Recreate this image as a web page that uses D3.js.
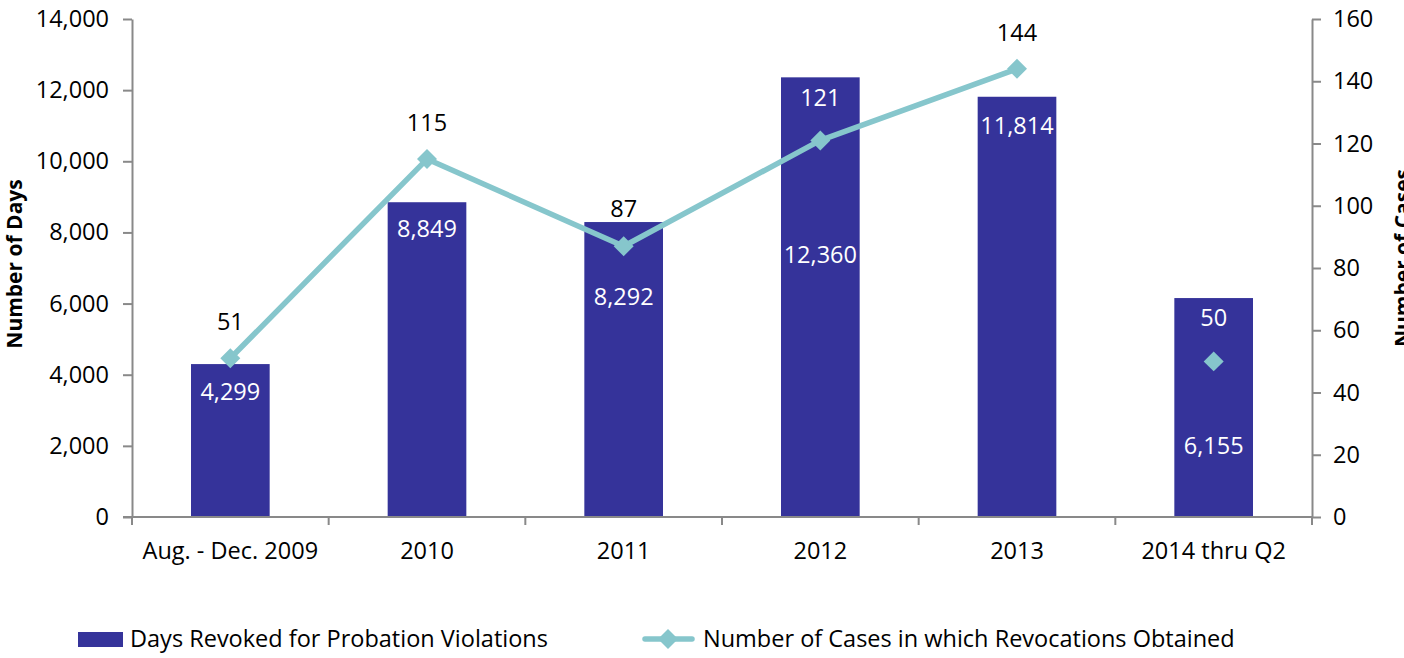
<!DOCTYPE html>
<html>
<head>
<meta charset="utf-8">
<script src="https://cdn.jsdelivr.net/npm/d3@7"></script>
<style>
  body { margin: 0; background: #fff; }
  svg { display: block; font-family: "Open Sans", sans-serif; }
</style>
</head>
<body>
<svg id="chart" width="1404" height="658"></svg>
<script>
// Data
var categories = ["Aug. - Dec. 2009", "2010", "2011", "2012", "2013", "2014 thru Q2"];
var daysRevoked = [4299, 8849, 8292, 12360, 11814, 6155];
var casesObtained = [51, 115, 87, 121, 144, 50];
var leftTicks = [0, 2000, 4000, 6000, 8000, 10000, 12000, 14000];
var rightTicks = [0, 20, 40, 60, 80, 100, 120, 140, 160];

// label placement (px), as the original chart had them nudged by hand
var barLabelDrop = [28, 27, 75, 177, 29, 148];
var caseLabelRise = [36, 36, 37, 43, 36, 44];
var caseLabelWhite = [false, false, false, true, false, true];

var barColor = "#35339a",
    lineColor = "#86c6cc",
    axisColor = "#898989";

window.onload = function() {
   drawChart();
};

function drawChart() {
   var svg = d3.select("#chart");
   var left = 132, right = 1312, top = 19, bottom = 517;
   var fs = 23.5;

   var x = d3.scaleBand().domain(categories).range([left, right]);
   var yL = d3.scaleLinear().domain([0, 14000]).range([bottom, top]);
   var yR = d3.scaleLinear().domain([0, 160]).range([bottom, top]);
   var barW = x.bandwidth() * 0.4;

   // Bars
   svg.append("g")
      .selectAll("rect")
      .data(daysRevoked)
      .enter().append("rect")
         .attr("x", function(d, i) { return x(categories[i]) + (x.bandwidth() - barW) / 2; })
         .attr("y", function(d) { return yL(d); })
         .attr("width", barW)
         .attr("height", function(d) { return bottom - yL(d); })
         .attr("fill", barColor);

   // Axes
   var axL = svg.append("g")
      .attr("transform", "translate(" + left + ",0)")
      .call(d3.axisLeft(yL).tickValues(leftTicks).tickFormat(d3.format(",")).tickSize(9).tickPadding(14).tickSizeOuter(0));
   var axR = svg.append("g")
      .attr("transform", "translate(" + right + ",0)")
      .call(d3.axisRight(yR).tickValues(rightTicks).tickSize(9).tickPadding(12).tickSizeOuter(0));
   [axL, axR].forEach(function(a) {
      a.selectAll("path, line").attr("stroke", axisColor).attr("stroke-width", 2);
      a.selectAll("text").attr("font-size", fs).attr("fill", "#000").attr("font-family", "Open Sans");
   });

   // X axis line + boundary ticks + labels
   var gx = svg.append("g");
   gx.append("line")
      .attr("x1", left - 9).attr("x2", right)
      .attr("y1", bottom).attr("y2", bottom)
      .attr("stroke", axisColor).attr("stroke-width", 2);
   gx.selectAll(".bt")
      .data(d3.range(categories.length + 1))
      .enter().append("line")
         .attr("x1", function(i) { return left + i * x.step(); })
         .attr("x2", function(i) { return left + i * x.step(); })
         .attr("y1", bottom).attr("y2", bottom + 8)
         .attr("stroke", axisColor).attr("stroke-width", 2);
   gx.selectAll("text")
      .data(categories)
      .enter().append("text")
         .attr("x", function(d) { return x(d) + x.bandwidth() / 2; })
         .attr("y", 559)
         .attr("text-anchor", "middle")
         .attr("font-size", fs)
         .text(function(d) { return d; });

   // Bar value labels
   svg.append("g")
      .selectAll("text")
      .data(daysRevoked)
      .enter().append("text")
         .attr("x", function(d, i) { return x(categories[i]) + x.bandwidth() / 2; })
         .attr("y", function(d, i) { return yL(d) + barLabelDrop[i]; })
         .attr("dy", "0.35em")
         .attr("text-anchor", "middle")
         .attr("font-size", fs)
         .attr("fill", "#fff")
         .text(function(d) { return d3.format(",")(d); });

   // Line (the partial 2014 year stands alone)
   var cx = function(i) { return x(categories[i]) + x.bandwidth() / 2; };
   var line = d3.line()
      .defined(function(d, i) { return i < 5; })
      .x(function(d, i) { return cx(i); })
      .y(function(d) { return yR(d); });
   svg.append("path")
      .datum(casesObtained)
      .attr("d", line)
      .attr("fill", "none")
      .attr("stroke", lineColor)
      .attr("stroke-width", 5.5)
      .attr("stroke-linejoin", "round");

   var diamond = d3.symbol().type(d3.symbolSquare).size(200);
   svg.append("g")
      .selectAll("path")
      .data(casesObtained)
      .enter().append("path")
         .attr("d", diamond)
         .attr("transform", function(d, i) { return "translate(" + cx(i) + "," + yR(d) + ") rotate(45)"; })
         .attr("fill", lineColor);

   svg.append("g")
      .selectAll("text")
      .data(casesObtained)
      .enter().append("text")
         .attr("x", function(d, i) { return cx(i); })
         .attr("y", function(d, i) { return yR(d) - caseLabelRise[i]; })
         .attr("dy", "0.35em")
         .attr("text-anchor", "middle")
         .attr("font-size", fs)
         .attr("fill", function(d, i) { return caseLabelWhite[i] ? "#fff" : "#000"; })
         .text(function(d) { return d; });

   // Axis titles (the right one is clipped by the edge, as in the original)
   svg.append("text")
      .attr("transform", "translate(22,264) rotate(-90)")
      .attr("text-anchor", "middle")
      .attr("font-size", 21)
      .attr("font-weight", "bold")
      .text("Number of Days");
   svg.append("text")
      .attr("transform", "translate(1410,258) rotate(-90)")
      .attr("text-anchor", "middle")
      .attr("font-size", 21)
      .attr("font-weight", "bold")
      .text("Number of Cases");

   // Legend
   var lg = svg.append("g").attr("font-size", fs);
   lg.append("rect")
      .attr("x", 78).attr("y", 632).attr("width", 45).attr("height", 15)
      .attr("fill", barColor);
   lg.append("text").attr("x", 130).attr("y", 639).attr("dy", "0.35em")
      .text("Days Revoked for Probation Violations");
   lg.append("line")
      .attr("x1", 645).attr("x2", 692).attr("y1", 639).attr("y2", 639)
      .attr("stroke", lineColor).attr("stroke-width", 5.5).attr("stroke-linecap", "round");
   lg.append("path")
      .attr("d", diamond)
      .attr("transform", "translate(668,639) rotate(45)")
      .attr("fill", lineColor);
   lg.append("text").attr("x", 703).attr("y", 639).attr("dy", "0.35em")
      .text("Number of Cases in which Revocations Obtained");
}
</script>
</body>
</html>
